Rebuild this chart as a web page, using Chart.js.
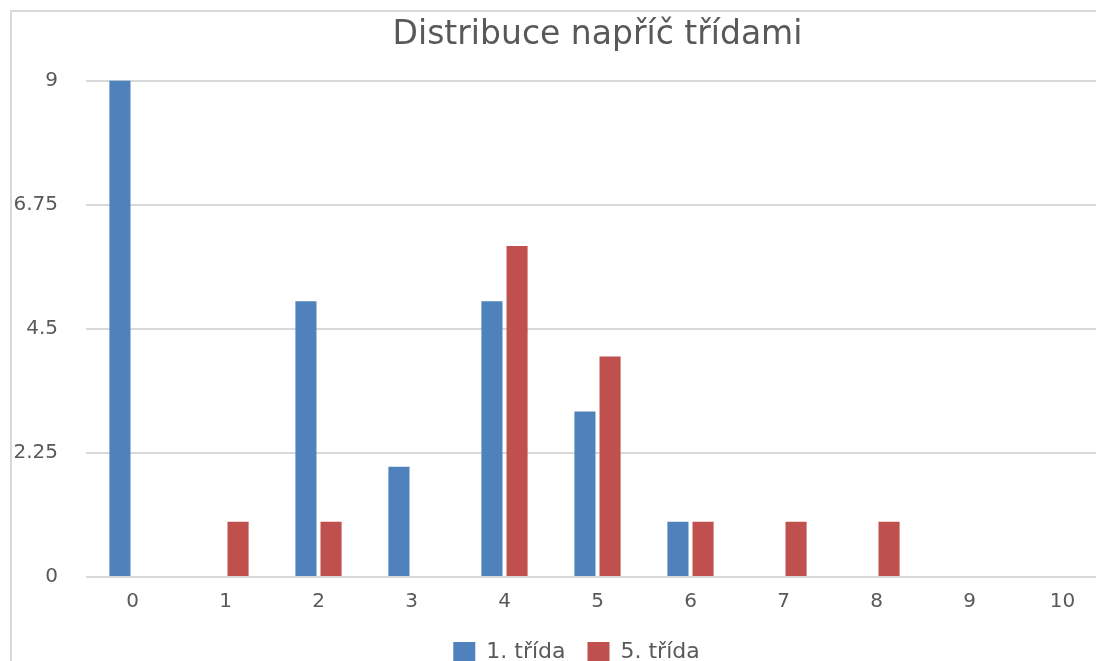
<!DOCTYPE html>
<html><head><meta charset="utf-8">
<script src="https://cdn.jsdelivr.net/npm/chart.js@4"></script>
<style>
html,body{margin:0;padding:0;background:#fff;overflow:hidden;width:1096px;height:661px;}
#wrap{position:absolute;left:0;top:0;width:1096px;height:661px;overflow:hidden;}
canvas{position:absolute;left:0;top:0;}
</style></head>
<body>
<div id="wrap"><canvas id="c" width="1110" height="681"></canvas></div>
<script>
const categories = ["0","1","2","3","4","5","6","7","8","9","10"];
const seriesNames = ["1. třída","5. třída"];
const trida1 = [9,0,5,2,5,3,1,0,0,0,0];
const trida5 = [0,1,1,0,6,4,1,1,1,0,0];
const yTicks = [0,2.25,4.5,6.75,9];
const colors = ["#4f81bd","#c0504d"];
const textColor = "#595959";
const fontFamily = "'DejaVu Sans', sans-serif";

const framePlugin = {
  id: 'frame',
  beforeDraw(chart) {
    const ctx = chart.ctx;
    ctx.save();
    ctx.strokeStyle = '#d9d9d9';
    ctx.lineWidth = 2;
    ctx.beginPath();
    ctx.moveTo(11, chart.height);
    ctx.lineTo(11, 11);
    ctx.lineTo(chart.width, 11);
    ctx.stroke();
    ctx.restore();
  },
  afterLayout(chart) {
    const lg = chart.legend;
    if (lg) { lg.left -= 21; lg.right -= 21; lg.top -= 8; lg.bottom -= 8; }
  }
};

new Chart(document.getElementById('c'), {
  type: 'bar',
  data: {
    labels: categories,
    datasets: [
      {label: seriesNames[0], data: trida1, backgroundColor: colors[0], barPercentage: 0.84, categoryPercentage: 0.54},
      {label: seriesNames[1], data: trida5, backgroundColor: colors[1], barPercentage: 0.84, categoryPercentage: 0.54}
    ]
  },
  plugins: [framePlugin],
  options: {
    responsive: false,
    animation: false,
    layout: {padding: {left: 0, right: 1, top: 0, bottom: 0}},
    plugins: {
      title: {display: true, text: 'Distribuce napříč třídami', color: textColor, fullSize: false,
        font: {family: fontFamily, size: 33, weight: 'normal'}, padding: {top: 16, bottom: 25}},
      legend: {position: 'bottom', fullSize: false,
        labels: {color: textColor, font: {family: fontFamily, size: 22}, boxWidth: 22, boxHeight: 20, padding: 22}},
      tooltip: {enabled: false}
    },
    scales: {
      x: {
        grid: {display: false, drawTicks: false},
        border: {display: false},
        ticks: {color: textColor, font: {family: fontFamily, size: 20}, padding: 13},
        afterFit: s => { s.height = 50; }
      },
      y: {
        min: 0, max: 9,
        afterBuildTicks: s => { s.ticks = yTicks.map(v => ({value: v})); },
        grid: {color: '#d9d9d9', lineWidth: 2, drawTicks: false},
        border: {display: false},
        ticks: {color: textColor, font: {family: fontFamily, size: 20}, padding: 28,
          callback: v => String(v)},
        afterFit: s => { s.width = 86; }
      }
    }
  }
});
</script>
</body></html>
